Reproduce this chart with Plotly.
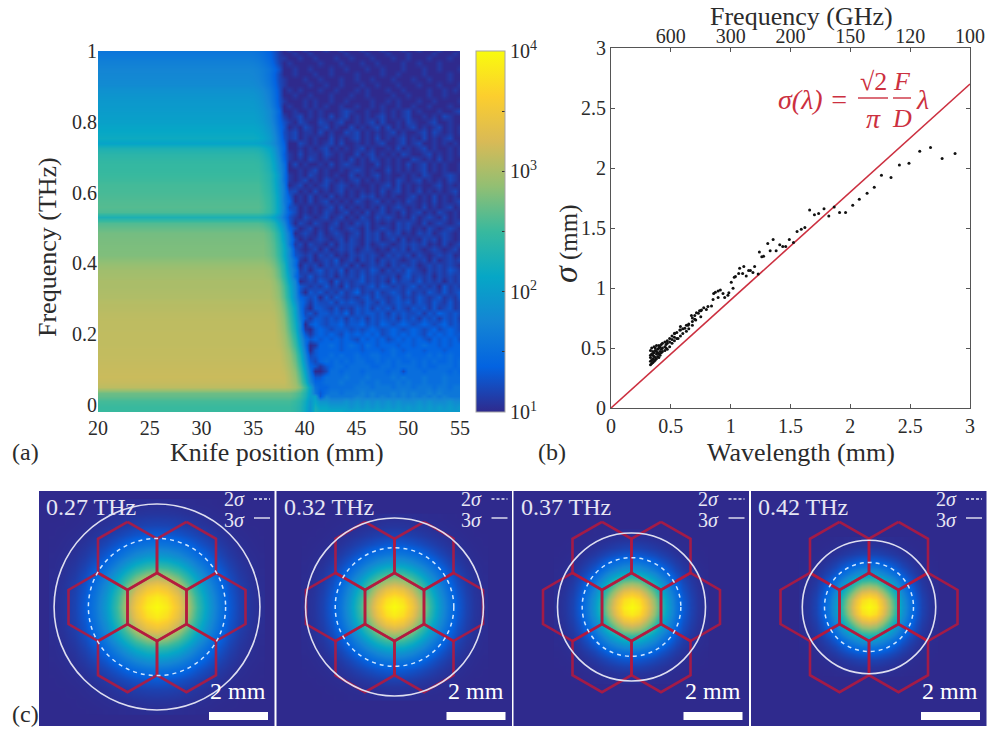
import numpy as np
import plotly.graph_objects as go

W, H = 987, 730
SERIF = "Liberation Serif"
INK = "#2b2b2b"
RED = "#cc3040"
BEAM_BG = "#2f2a8d"
PANEL_TEXT = "#e6e6f4"
HEX_RED = "rgba(180,25,62,0.88)"

parula = [[0, BEAM_BG], [0.125, "#0363e1"], [0.25, "#1485d4"], [0.375, "#06a7c6"],
          [0.5, "#38b99e"], [0.625, "#92bf73"], [0.75, "#d9ba56"], [0.875, "#fcce2e"], [1, "#f9fb0e"]]

# ---------- panel (a): knife-edge map, log10 of signal ----------
freq_rows = [-0.02, -0.005, 0.01, 0.025, 0.035, 0.05, 0.065, 0.08, 0.095, 0.11, 0.125, 0.14, 0.155, 0.17,
             0.185, 0.20, 0.215, 0.23, 0.245, 0.26, 0.275, 0.29, 0.305, 0.32, 0.335, 0.35, 0.365, 0.38,
             0.395, 0.41, 0.425, 0.44, 0.455, 0.47, 0.485, 0.50, 0.515, 0.53, 0.545, 0.56, 0.575, 0.59,
             0.605, 0.62, 0.635, 0.65, 0.665, 0.68, 0.695, 0.71, 0.725, 0.74, 0.755, 0.77, 0.785, 0.80,
             0.815, 0.83, 0.845, 0.86, 0.875, 0.89, 0.905, 0.92, 0.935, 0.95, 0.965, 0.98, 0.995, 1.0]
left_level = [2.5, 2.5, 2.55, 2.68, 2.72, 3.1, 3.15, 3.17, 3.16, 3.15, 3.14, 3.13, 3.13, 3.12,
              3.12, 3.12, 3.11, 3.11, 3.1, 3.09, 3.07, 3.06, 3.03, 3.02, 3.0, 3.0, 2.97, 2.95,
              2.9, 2.85, 2.8, 2.79, 2.78, 2.77, 2.75, 2.68, 2.6, 2.3, 2.58, 2.62, 2.6, 2.58,
              2.56, 2.55, 2.52, 2.5, 2.48, 2.47, 2.44, 2.4, 2.3, 2.08, 2.18, 2.13, 2.1, 2.05,
              2.03, 2.0, 1.98, 1.96, 1.92, 1.88, 1.82, 1.79, 1.77, 1.75, 1.7, 1.65, 1.6, 1.58]
edge_mm = [41.5, 41.5, 41.5, 41.5, 41.5, 41.3, 41.0, 40.9, 40.8, 40.7, 40.6, 40.5, 40.4, 40.3,
           40.2, 40.1, 40.0, 39.95, 39.9, 39.85, 39.8, 39.7, 39.6, 39.55, 39.5, 39.4, 39.3, 39.25,
           39.2, 39.15, 39.1, 39.05, 39.0, 38.95, 38.9, 38.8, 38.7, 38.7, 38.65, 38.6, 38.6, 38.6,
           38.55, 38.5, 38.5, 38.5, 38.45, 38.4, 38.35, 38.3, 38.3, 38.3, 38.25, 38.2, 38.15, 38.1,
           38.05, 38.0, 37.95, 37.9, 37.9, 37.9, 37.85, 37.8, 37.8, 37.8, 37.75, 37.7, 37.7, 37.7]
# beyond the knife edge: one character per 0.5 mm from 37.5 mm, value 1 + 0.1*digit (base 36)
floor_rows = [
    "0000000ccccccbbbbbbbbbbbaaaaaaaaaaaa",
    "0000000bbbaaaa9a9a9a9a9a9a9a9a9a9a9a",
    "000000099988898989898989888989888988",
    "000000073766666776767676767676767666",
    "000000003566566676766676767667676666",
    "000000004455555666566656665666566566",
    "000000044555655565565556565565556555",
    "000000033555565556555565655565556555",
    "000000000255455545555455255545555454",
    "000000031345545555445545555454455545",
    "000000024545454554454545445454544545",
    "000000234454544544554454454445454544",
    "000000034444344434443454344434443444",
    "000000014454345435434443443454434344",
    "000001343434343243434234343432434342",
    "000000134343243434342343434324343433",
    "000001034323332323432343234323423432",
    "000010343233423342324323432343234232",
    "000003133232313231323231323132313231",
    "000002313323241323323132322313243232",
    "000102033213121323132313213231312312",
    "000013132231323213213123231321321312",
    "000013230313212123132123121321231213",
    "000100323121312412131232131213213123",
    "000132121312031212313212123121203121",
    "000201213203121231212031221312120212",
    "001021312120212131212120231212021212",
    "000212023121302121320212132102121321",
    "010102120212120201212021212012121210",
    "001210201213012021202121012120201212",
    "001021202120102121210212120210121201",
    "012010120201212012101021202101210120",
    "010120211020212102012101212120102012",
    "001201012101202102120120201021202101",
    "001012102012101202120212010212012101",
    "010201201021012102012102120102101210",
    "010021021012010212010102121020121012",
    "000102101201201021021210102012102010",
    "001201010210120102012010201201021010",
    "010201010120201010102012101020101201",
    "002010201201010210120101021010201012",
    "001010201020101021201010012010201010",
    "010201020101201010102012010201010120",
    "010120101201210100101202010100120101",
    "001012010210101201010102101201010210",
    "101010210101002010120100101021001210",
    "010010120100101210100201010120101001",
    "010201001020121010020101020120101001",
    "001010210100102010210101002101020100",
    "001020110210100201201010210012010101",
    "010010101201010120100102010120100101",
    "110021010120200101012001201200101010",
    "001201010020101201020101201020101200",
    "001201102010021201010120100120210101",
    "010102101201002010120201012010120101",
    "011021002101200101202001021001200100",
    "000120101020120101012010120010102100",
    "100100101000121001001010120100010012",
    "001001010100100100101001001001000100",
    "010001010010010000100101000100100001",
    "000100100010001001000010010001001000",
    "001010001001000101000100100001001010",
    "010000100100100010010001000100010001",
    "010001001000100100100010001001000100",
    "000100010010000100001001000010000100",
    "100100100010010001001000100010010001",
    "001000001000100010010000100100010000",
    "010010010001001000100010010001000100",
    "000100100000010001000100010000100010",
    "001001000100100010001000100100010001",
]
knife_columns = [20, 30, 34, 34.5, 35, 35.5, 36, 36.5, 37, 37.5, 38, 38.5, 39, 39.5, 40, 40.5, 41, 41.5,
                 42, 42.5, 43, 43.5, 44, 44.5, 45, 45.5, 46, 46.5, 47, 47.5, 48, 48.5, 49, 49.5, 50,
                 50.5, 51, 51.5, 52, 52.5, 53, 53.5, 54, 54.5, 55]
# share of the step still present, by distance before the edge
taper_mm = [0, 0.5, 1, 1.5, 2, 2.5, 3]
taper_share = [0.1, 0.35, 0.6, 0.78, 0.9, 0.96, 1.0]

z_knife = []
for level, edge, floor in zip(left_level, edge_mm, floor_rows):
    row = []
    for xv in knife_columns:
        idx = min(max(int(round((xv - 37.5) * 2)), 0), len(floor) - 1)
        base = 1 + 0.1 * int(floor[idx], 36)
        if xv >= edge:
            row.append(base)
        else:
            row.append(base + float(np.interp(edge - xv, taper_mm, taper_share)) * (level - base))
    z_knife.append(row)

colorbar_ticks = [1, 1.5, 2, 2.5, 3, 3.5, 4]
colorbar_labels = ["10<sup>1</sup>", "", "10<sup>2</sup>", "", "10<sup>3</sup>", "", "10<sup>4</sup>"]
knife_ticks = [20, 25, 30, 35, 40, 45, 50, 55]
freq_ticks = [0, 0.2, 0.4, 0.6, 0.8, 1]

# ---------- panel (b): beam size against wavelength ----------
lambda_mm = [2.875, 2.767, 2.67, 2.58, 2.49, 2.41, 2.34, 2.26, 2.20, 2.14, 2.075, 2.02, 1.96, 1.91, 1.865,
             1.82, 1.78, 1.735, 1.70, 1.66, 1.62, 1.59, 1.555, 1.525, 1.49, 1.46, 1.435, 1.41, 1.38, 1.355,
             1.33, 1.31, 1.275, 1.26, 1.24, 1.20, 1.23, 1.165, 1.186, 1.15, 1.11, 1.075, 1.10, 1.067, 1.13,
             1.04, 1.03, 1.005, 1.02, 0.985, 0.977, 0.95, 0.936, 0.914, 0.895, 0.872, 0.858, 0.895, 0.853,
             0.84, 0.81, 0.797, 0.775, 0.756, 0.74, 0.714, 0.708, 0.672, 0.644, 0.617, 0.575, 0.56, 0.533,
             0.33, 0.33, 0.33, 0.33, 0.33, 0.34, 0.34, 0.34, 0.34, 0.35, 0.35, 0.35, 0.35, 0.36, 0.36, 0.36, 0.36,
             0.37, 0.37, 0.37, 0.37, 0.38, 0.38, 0.38, 0.38, 0.39, 0.39, 0.39, 0.40, 0.40, 0.40, 0.40,
             0.41, 0.41, 0.41, 0.42, 0.42, 0.42, 0.43, 0.43, 0.43, 0.45, 0.45, 0.45, 0.46, 0.46,
             0.47, 0.47, 0.47, 0.49, 0.49, 0.49, 0.51, 0.51, 0.51, 0.53, 0.53, 0.53, 0.55, 0.55,
             0.58, 0.58, 0.58, 0.60, 0.60, 0.63, 0.63, 0.65, 0.65, 0.68, 0.68, 0.68, 0.70, 0.70, 0.73, 0.75, 0.75]
sigma_mm = [2.12, 2.08, 2.17, 2.14, 2.04, 2.025, 1.92, 1.94, 1.84, 1.79, 1.74, 1.69, 1.63, 1.63, 1.675,
            1.60, 1.66, 1.62, 1.61, 1.65, 1.505, 1.49, 1.47, 1.38, 1.405, 1.345, 1.345, 1.36, 1.31, 1.405,
            1.31, 1.37, 1.265, 1.26, 1.30, 1.18, 1.117, 1.145, 1.13, 1.145, 1.18, 1.165, 1.12, 1.12, 1.10,
            1.095, 1.09, 1.047, 0.997, 0.96, 0.94, 0.92, 0.955, 0.983, 0.975, 0.964, 0.955, 0.92, 0.905,
            0.85, 0.845, 0.82, 0.835, 0.816, 0.81, 0.794, 0.733, 0.77, 0.69, 0.664, 0.65, 0.58, 0.622,
            0.36, 0.39, 0.42, 0.44, 0.48, 0.37, 0.40, 0.45, 0.50, 0.38, 0.41, 0.44, 0.47, 0.39, 0.43, 0.46, 0.51,
            0.40, 0.42, 0.48, 0.50, 0.41, 0.45, 0.47, 0.52, 0.43, 0.46, 0.49, 0.42, 0.45, 0.50, 0.52,
            0.44, 0.47, 0.51, 0.46, 0.49, 0.53, 0.47, 0.50, 0.54, 0.48, 0.51, 0.55, 0.50, 0.53,
            0.49, 0.54, 0.56, 0.51, 0.55, 0.58, 0.54, 0.57, 0.60, 0.56, 0.59, 0.62, 0.58, 0.63,
            0.60, 0.65, 0.68, 0.62, 0.66, 0.64, 0.69, 0.70, 0.66, 0.72, 0.75, 0.69, 0.74, 0.77, 0.79, 0.76, 0.81]
fit_lambda = [0, 3]
fit_sigma = [0, 2.7]
wave_ticks = [0, 0.5, 1, 1.5, 2, 2.5, 3]
wave_labels = ["0", "0.5", "1", "1.5", "2", "2.5", "3"]
ghz_ticks = [0.5, 1, 1.5, 2, 2.5, 3]
ghz_labels = ["600", "300", "200", "150", "120", "100"]

# ---------- panel (c): fitted beams ----------
beam_freq = ["0.27 THz", "0.32 THz", "0.37 THz", "0.42 THz"]
beam_sigma_mm = [1.163, 1.005, 0.836, 0.754]
# amplitude over one quadrant, both axes in units of sigma
beam_axis = [0, 0.3, 0.6, 0.9, 1.2, 1.5, 1.8, 2.1, 2.4, 2.7, 3.0]
beam_quadrant = [
    [1.00, .956, .835, .667, .487, .325, .198, .110, .056, .026, .011],
    [.956, .914, .799, .638, .465, .310, .189, .105, .054, .025, .011],
    [.835, .799, .698, .557, .407, .271, .165, .092, .047, .022, .009],
    [.667, .638, .557, .445, .325, .217, .132, .074, .037, .017, .007],
    [.487, .465, .407, .325, .237, .158, .096, .054, .027, .013, .005],
    [.325, .310, .271, .217, .158, .105, .064, .036, .018, .008, .004],
    [.198, .189, .165, .132, .096, .064, .039, .022, .011, .005, .002],
    [.110, .105, .092, .074, .054, .036, .022, .012, .006, .003, .001],
    [.056, .054, .047, .037, .027, .018, .011, .006, .003, .001, .001],
    [.026, .025, .022, .017, .013, .008, .005, .003, .001, .001, .000],
    [.011, .011, .009, .007, .005, .004, .002, .001, .001, .000, .000],
]
hex_x = [0, 2, -2, 1, -1, 1, -1]
hex_y = [0, 0, 0, 1.732, 1.732, -1.732, -1.732]
hex_radius = 1.155
scale_bar_mm = 2


def fx(p):
    return p / W


def fy(p):
    return 1 - p / H


fig = go.Figure()

fig.add_trace(go.Heatmap(
    x=knife_columns, y=freq_rows, z=z_knife, zmin=1, zmax=4, zsmooth="best", colorscale=parula,
    xaxis="x", yaxis="y",
    colorbar=dict(x=fx(476), xanchor="left", xpad=0, y=fy(412), yanchor="bottom", ypad=0,
                  thickness=29, lenmode="pixels", len=361, outlinecolor="#a5a5a5", outlinewidth=1,
                  tickmode="array", tickvals=colorbar_ticks, ticktext=colorbar_labels,
                  ticks="inside", ticklen=3, tickcolor="#333", tickfont=dict(size=20, color=INK, family=SERIF)),
))

fig.add_trace(go.Scatter(x=fit_lambda, y=fit_sigma, mode="lines", line=dict(color=RED, width=1.6),
                         xaxis="x2", yaxis="y2", showlegend=False))
fig.add_trace(go.Scatter(x=lambda_mm, y=sigma_mm, mode="markers", marker=dict(color="#111", size=3),
                         xaxis="x2", yaxis="y2", showlegend=False))
fig.add_trace(go.Scatter(x=[None], y=[None], xaxis="x3", yaxis="y2", showlegend=False))

b_left, b_right, b_top, b_bottom = 611, 970, 48, 408
layout = dict(
    width=W, height=H, margin=dict(l=0, r=0, t=0, b=0), paper_bgcolor="white", plot_bgcolor="white",
    showlegend=False, font=dict(family=SERIF, color=INK, size=20),
    xaxis=dict(domain=[fx(98), fx(460)], range=[20, 55], tickvals=knife_ticks, ticks="", showgrid=False, automargin=False,
               zeroline=False, tickfont=dict(size=20), ticklabelstandoff=2),
    yaxis=dict(domain=[fy(412), fy(51)], range=[-0.02, 1], tickvals=freq_ticks, ticktext=["0", "0.2", "0.4", "0.6", "0.8", "1"],
               ticks="", showgrid=False, zeroline=False, tickfont=dict(size=20), automargin=False),
    xaxis2=dict(domain=[fx(b_left), fx(b_right)], range=[0, 3], anchor="y2", tickvals=wave_ticks, ticktext=wave_labels,
                ticks="inside", ticklen=4, tickcolor="#555", showline=True, linecolor="#555", linewidth=1,
                showgrid=False, zeroline=False, tickfont=dict(size=20), automargin=False),
    yaxis2=dict(domain=[fy(b_bottom), fy(b_top)], range=[0, 3], anchor="x2", tickvals=wave_ticks, ticktext=wave_labels,
                ticks="inside", ticklen=4, tickcolor="#555", showline=True, linecolor="#555", linewidth=1, mirror="ticks",
                showgrid=False, zeroline=False, tickfont=dict(size=20), automargin=False),
    xaxis3=dict(domain=[fx(b_left), fx(b_right)], range=[0, 3], anchor="y2", overlaying="x2", side="top",
                tickvals=ghz_ticks, ticktext=ghz_labels, ticks="inside", ticklen=4, tickcolor="#555",
                showline=True, linecolor="#555", linewidth=1, showgrid=False, zeroline=False, automargin=False,
                tickfont=dict(size=20), ticklabelstandoff=-4),
)

shapes, annotations = [], []


def note(text, x, y, size=24, color=INK, xanchor="center", italic=False, angle=0):
    annotations.append(dict(text=f"<i>{text}</i>" if italic else text, x=fx(x), y=fy(y), xref="paper", yref="paper",
                            showarrow=False, xanchor=xanchor, yanchor="middle", textangle=angle,
                            font=dict(family=SERIF, size=size, color=color)))


# axis titles
note("Knife position (mm)", 277, 453, 26)
note("Frequency (THz)", 47, 247, 26, angle=-90)
note("Wavelength (mm)", 801, 453, 26)
note("Frequency (GHz)", 801, 17, 26)
note('<span style="font-size:34px"><i>σ</i></span> (mm)', 566, 244, 25, angle=-90)

note("(a)", 10, 452, 24, xanchor="left")
note("(b)", 536, 452, 24, xanchor="left")
note("(c)", 10, 714, 24, xanchor="left")

# formula in panel (b)
note("σ(λ) =", 813, 99, 28, RED, italic=True)
note("√2", 873, 81, 26, RED, italic=False)
note("π", 873, 118, 28, RED, italic=True)
note("F", 902, 81, 26, RED, italic=True)
note("D", 902, 118, 26, RED, italic=True)
note("λ", 922, 99, 28, RED, italic=True)
for a, b in [(858, 888), (893, 911)]:
    shapes.append(dict(type="line", xref="paper", yref="paper", x0=fx(a), x1=fx(b), y0=fy(98), y1=fy(98),
                       line=dict(color=RED, width=1.4)))

# beam panels
panel_left = [39, 276.5, 513.5, 751]
panel_right = [274.5, 512, 749, 986.5]
panel_cx = [157, 394.5, 631.5, 869]
PX_PER_MM = 29.5
panel_top, panel_bottom, beam_cy = 491, 726, 607
axis_full = np.array(beam_axis[:0:-1] + beam_axis) * np.array([-1] * 10 + [1] * 11)
q = np.array(beam_quadrant)
z_beam = np.block([[q[::-1, ::-1][:-1, :-1], q[::-1, :][:-1, :]], [q[:, ::-1][:, :-1], q]]).tolist()

for i, sig in enumerate(beam_sigma_mm):
    n = i + 4
    xa, ya = f"x{n}", f"y{n}"
    fig.add_trace(go.Heatmap(x=(axis_full * sig).tolist(), y=(axis_full * sig).tolist(), z=z_beam, zmin=0, zmax=1,
                             zsmooth="best", colorscale=parula, showscale=False, xaxis=xa, yaxis=ya))
    hx, hy = [], []
    for cx, cy in zip(hex_x, hex_y):
        for k in range(7):
            ang = np.pi / 2 + k * np.pi / 3
            hx.append(cx + hex_radius * np.cos(ang))
            hy.append(cy + hex_radius * np.sin(ang))
        hx.append(None)
        hy.append(None)
    fig.add_trace(go.Scatter(x=hx, y=hy, mode="lines", line=dict(color=HEX_RED, width=2.6), xaxis=xa, yaxis=ya,
                             showlegend=False))
    l, r, c = panel_left[i], panel_right[i], panel_cx[i]
    layout[f"xaxis{n}"] = dict(domain=[fx(l), fx(r)], range=[(l - c) / PX_PER_MM, (r - c) / PX_PER_MM], visible=False, anchor=ya)
    layout[f"yaxis{n}"] = dict(domain=[fy(panel_bottom), fy(panel_top)],
                               range=[(beam_cy - panel_bottom) / PX_PER_MM, (beam_cy - panel_top) / PX_PER_MM],
                               visible=False, anchor=xa)
    shapes.append(dict(type="rect", xref=f"{xa} domain", yref=f"{ya} domain", x0=0, x1=1, y0=0, y1=1,
                       fillcolor=BEAM_BG, line=dict(width=0), layer="below"))
    for mult, dash, col, wid in [(2, "4px,4px", "#cfe6ff", 1.5), (3, "solid", "#dedef0", 1.6)]:
        shapes.append(dict(type="circle", xref=xa, yref=ya, x0=-mult * sig, x1=mult * sig, y0=-mult * sig, y1=mult * sig,
                           line=dict(color=col, width=wid, dash=dash)))
    # 2 mm scale bar
    bar_x0 = 52 / PX_PER_MM
    shapes.append(dict(type="rect", xref=xa, yref=ya, x0=bar_x0, x1=bar_x0 + scale_bar_mm,
                       y0=(beam_cy - 720) / PX_PER_MM, y1=(beam_cy - 712) / PX_PER_MM,
                       fillcolor="white", line=dict(width=0)))
    note(f"{scale_bar_mm} mm", c + 81, 691, 24, "white")
    note(beam_freq[i], l + 5, 507, 24, PANEL_TEXT, xanchor="left")
    note("2<i>σ</i>", c + 77, 499, 20, PANEL_TEXT)
    note("3<i>σ</i>", c + 77, 520, 20, PANEL_TEXT)
    shapes.append(dict(type="line", xref="paper", yref="paper", x0=fx(c + 97), x1=fx(c + 113), y0=fy(499), y1=fy(499),
                       line=dict(color=PANEL_TEXT, width=1.4, dash="3px,2px")))
    shapes.append(dict(type="line", xref="paper", yref="paper", x0=fx(c + 97), x1=fx(c + 113), y0=fy(518), y1=fy(518),
                       line=dict(color=PANEL_TEXT, width=1.4)))

layout["shapes"] = shapes
layout["annotations"] = annotations
fig.update_layout(**layout)
fig.write_html("out.html", config={"displayModeBar": False},
               post_script="document.body.style.margin='0';document.body.style.overflow='hidden';")
